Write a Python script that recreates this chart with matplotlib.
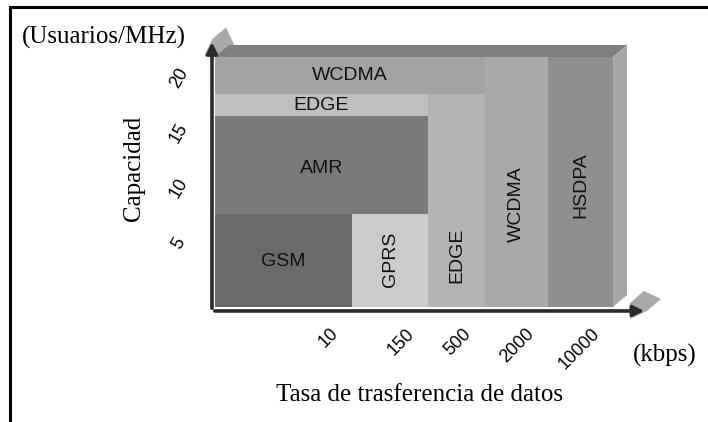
import numpy as np
import matplotlib.pyplot as plt
from matplotlib.patches import Rectangle, Polygon
from matplotlib.lines import Line2D
import matplotlib.transforms as mtransforms

# eje x: tasa de datos (kbps), eje y: capacidad (usuarios/MHz)
rate_ticks = ['10', '150', '500', '2000', '10000']
band_width = [137, 76, 57, 63, 65]
cap_ticks = [5, 10, 15, 20]
cap_top = 22.7

# bloques de tecnologia
names    = ['GSM', 'GPRS', 'AMR', 'EDGE', 'WCDMA', 'EDGE', 'WCDMA', 'HSDPA']
band_lo  = [0, 1, 0, 0, 0, 2, 3, 4]
band_hi  = [1, 2, 2, 2, 3, 3, 4, 5]
cap_lo   = [0, 0, 8.4, 17.3, 19.3, 0, 0, 0]
cap_hi   = [8.4, 8.4, 17.3, 19.3, cap_top, 19.3, cap_top, cap_top]
label_y  = [4.1, 4.3, 12.6, 18.3, 21.0, 4.7, 9.3, 11.1]
vertical = [False, True, False, False, False, True, True, True]
colors   = ['#6a6a6a', '#cbcbcb', '#7a7a7a', '#bfbfbf', '#a3a3a3', '#b4b4b4', '#a9a9a9', '#8f8f8f']

SANS = 'Liberation Sans'
SERIF = 'Liberation Serif'

fig = plt.figure(figsize=(7.08, 4.22), dpi=100)
fig.patch.set_facecolor('white')
ax = fig.add_axes([215/708, 1-307/422, 398/708, 250/422])

edges = np.concatenate([[0], np.cumsum(band_width)])
xmax = edges[-1]
ax.set_xlim(0, xmax)
ax.set_ylim(0, cap_top)

for i in range(len(names)):
    x0 = edges[band_lo[i]]
    x1 = edges[band_hi[i]]
    ax.add_patch(Rectangle((x0, cap_lo[i]), x1-x0, cap_hi[i]-cap_lo[i],
                           facecolor=colors[i], edgecolor='none', zorder=2))
    ax.text((x0+x1)/2, label_y[i], names[i], rotation=90 if vertical[i] else 0,
            ha='center', va='center', family=SANS, fontsize=14, color='#111111', zorder=5)

# efecto 3D: cara superior y lateral
dx = 14
dy = 12/11
ax.add_patch(Polygon([(0, cap_top), (dx, cap_top+dy), (xmax+dx, cap_top+dy), (xmax, cap_top)],
                     closed=True, facecolor='#7f7f7f', edgecolor='none', clip_on=False, zorder=2))
ax.add_patch(Polygon([(xmax, 0), (xmax, cap_top), (xmax+dx, cap_top+dy), (xmax+dx, dy)],
                     closed=True, facecolor='#a6a6a6', edgecolor='none', clip_on=False, zorder=2))

# flechas de los ejes
y_tip = (-3, 24.3)
x_tip = (432, -0.36)
head_l = 17      # largo de la punta en pixeles
head_w = 8       # media anchura en pixeles
px_y = 1/11      # unidades de capacidad por pixel

# sombra gris de las puntas (extrusion 3D)
tx, ty = y_tip
bl = (tx - head_w, ty - head_l*px_y)
br = (tx + head_w, ty - head_l*px_y)
ax.add_patch(Polygon([bl, (tx, ty), (tx+dx, ty+dy), (br[0]+dx, br[1]+dy), br],
                     closed=True, facecolor='#a9a9a9', edgecolor='none', clip_on=False, zorder=1))
tx, ty = x_tip
bu = (tx - head_l, ty + head_w*px_y)
bd = (tx - head_l, ty - head_w*px_y)
ax.add_patch(Polygon([bd, bu, (bu[0]+dx, bu[1]+dy), (tx+dx, ty+dy), (tx, ty)],
                     closed=True, facecolor='#a9a9a9', edgecolor='none', clip_on=False, zorder=1))

ax.annotate('', xy=y_tip, xytext=(-3, -0.36),
            arrowprops=dict(arrowstyle='-|>', color='#2b2b2b', lw=2.6, mutation_scale=16),
            annotation_clip=False, zorder=6)
ax.annotate('', xy=x_tip, xytext=(-3, -0.36),
            arrowprops=dict(arrowstyle='-|>', color='#2b2b2b', lw=2.6, mutation_scale=16),
            annotation_clip=False, zorder=6)

for s in ax.spines.values():
    s.set_visible(False)
ax.set_facecolor('none')

ax.set_xticks(edges[1:])
ax.set_xticklabels(rate_ticks, family=SANS, fontsize=13)
ax.set_yticks(cap_ticks)
ax.set_yticklabels([str(c) for c in cap_ticks], family=SANS, fontsize=13)
ax.tick_params(axis='x', length=0, pad=13)
ax.tick_params(axis='y', length=0, pad=26)

offx = mtransforms.ScaledTranslation(-0.10, 0, fig.dpi_scale_trans)
for lab in ax.get_xticklabels():
    lab.set_rotation(45)
    lab.set_ha('right')
    lab.set_va('top')
    lab.set_transform(lab.get_transform() + offx)
offy = mtransforms.ScaledTranslation(0, 0.09, fig.dpi_scale_trans)
for lab in ax.get_yticklabels():
    lab.set_rotation(60)
    lab.set_ha('center')
    lab.set_va('center')
    lab.set_transform(lab.get_transform() + offy)

ax.set_xlabel('Tasa de trasferencia de datos', family=SERIF, fontsize=18)
ax.xaxis.set_label_coords((419-215)/398, (307-384)/250)
ax.set_ylabel('Capacidad', family=SERIF, fontsize=18, va='center')
ax.yaxis.set_label_coords((134-215)/398, (307-168)/250)

fig.text(22/708, 1-37/422, '(Usuarios/MHz)', family=SERIF, fontsize=18, ha='left', va='center')
fig.text(665/708, 1-355/422, '(kbps)', family=SERIF, fontsize=18, ha='center', va='center')

# marco
fig.add_artist(Line2D([10/708, 10/708], [0, 1-7/422], transform=fig.transFigure, color='black', lw=2.2))
fig.add_artist(Line2D([10/708, 1], [1-7/422, 1-7/422], transform=fig.transFigure, color='black', lw=2.2))

fig.savefig('out.png', dpi=100)
